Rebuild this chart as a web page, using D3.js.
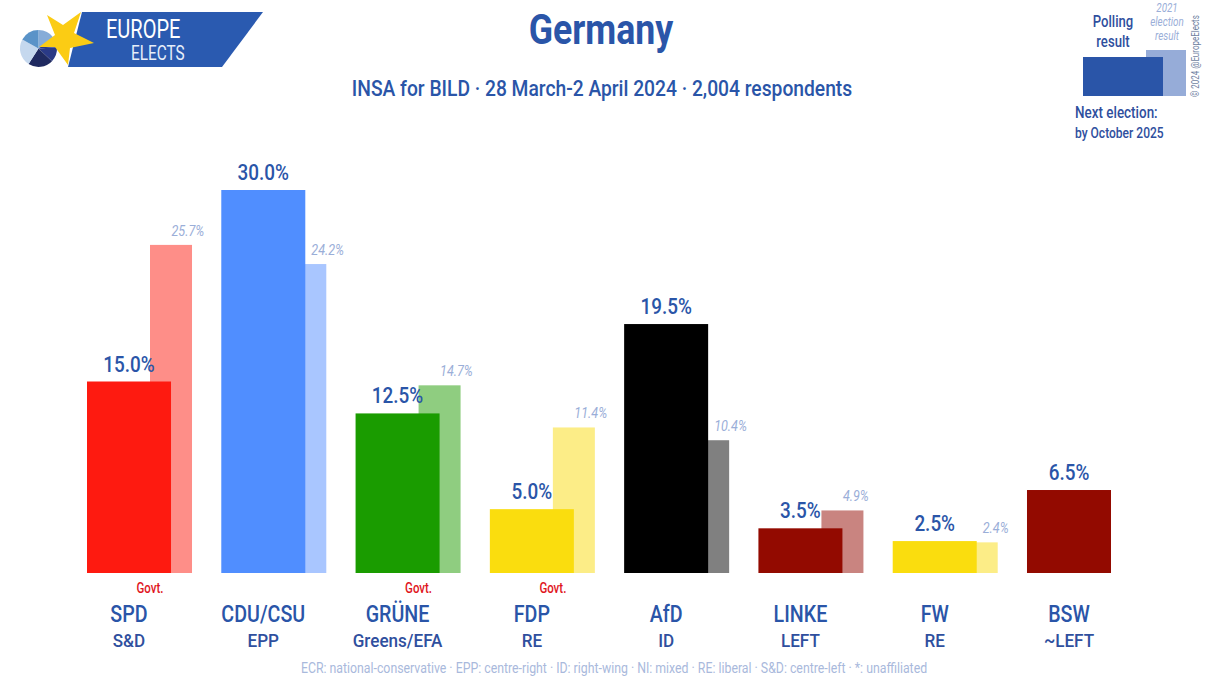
<!DOCTYPE html>
<html lang="en">
  <head>
    <meta charset="UTF-8" />
    <title>Germany poll</title>
    <script src="https://d3js.org/d3.v7.min.js"></script>
    <style>
      html, body { margin: 0; padding: 0; background: #fff; }
      svg { display: block; }
      text { font-family: Roboto, sans-serif; }
    </style>
  </head>
  <body>
    <svg width="1209" height="680" viewBox="0 0 1209 680"></svg>
    <script>
      // Data
      const parties = ["SPD", "CDU/CSU", "GRÜNE", "FDP", "AfD", "LINKE", "FW", "BSW"];
      const groups = ["S&D", "EPP", "Greens/EFA", "RE", "ID", "LEFT", "RE", "~LEFT"];
      const poll = [15.0, 30.0, 12.5, 5.0, 19.5, 3.5, 2.5, 6.5];
      const election = [25.7, 24.2, 14.7, 11.4, 10.4, 4.9, 2.4, null];
      const govt = ["SPD", "GRÜNE", "FDP"];
      const pollColors = ["#fe1a10", "#508eff", "#1a9c00", "#fadd0e", "#000000", "#930a00", "#fadd0e", "#930a00"];
      const electionColors = ["#fe8e88", "#a9c6ff", "#8fcd80", "#fced87", "#808080", "#c98480", "#fced87", "#c98480"];
      const logoSlices = [15, 9, 13, 22, 24, 17];
      const logoColors = ["#86acd8", "#2a3a86", "#2a3a86", "#1f2a60", "#c5d8ee", "#5a93c8"];

      const blue = "#2a55a8";
      const ink = "#2f4f9e";
      const pale = "#9aaed8";
      const svg = d3.select("svg");

      const x = d3.scaleBand().domain(parties).range([87, 1132]).paddingInner(0.218);
      const y = d3.scaleLinear().domain([0, 30]).range([573, 190]);
      const pollW = x.bandwidth() * 0.8;
      const elecW = x.bandwidth() * 0.4;

      // no narrow font installed, so squeeze Roboto sideways
      const squeeze = (tx, ty, sx) => `translate(${tx},${ty}) scale(${sx},1)`;

      // Election bars sit behind the polling bars
      svg.append("g").selectAll("rect")
        .data(parties.filter((d, i) => election[i] !== null))
        .join("rect")
        .attr("x", (d) => x(d) + x.bandwidth() - elecW)
        .attr("y", (d) => y(election[parties.indexOf(d)]))
        .attr("width", elecW)
        .attr("height", (d) => y(0) - y(election[parties.indexOf(d)]))
        .attr("fill", (d) => electionColors[parties.indexOf(d)]);

      svg.append("g").selectAll("rect")
        .data(parties)
        .join("rect")
        .attr("x", (d) => x(d))
        .attr("y", (d, i) => y(poll[i]))
        .attr("width", pollW)
        .attr("height", (d, i) => y(0) - y(poll[i]))
        .attr("fill", (d, i) => pollColors[i]);

      // Value labels
      svg.append("g").selectAll("text")
        .data(parties)
        .join("text")
        .attr("transform", (d, i) => squeeze(x(d) + pollW / 2, y(poll[i]) - 10, 0.86))
        .attr("text-anchor", "middle")
        .attr("font-size", 22)
        .attr("font-weight", 500)
        .attr("fill", blue)
        .text((d, i) => poll[i].toFixed(1) + "%");

      svg.append("g").selectAll("text")
        .data(parties.filter((d, i) => election[i] !== null))
        .join("text")
        .attr("transform", (d) => {
          const i = parties.indexOf(d);
          return squeeze(x(d) + pollW + (poll[i] > election[i] ? 6 : 0.5), y(election[i]) - 9, 0.9);
        })
        .attr("font-size", 14)
        .attr("font-style", "italic")
        .attr("fill", pale)
        .text((d) => election[parties.indexOf(d)].toFixed(1) + "%");

      // Party names and groups under the bars
      svg.append("g").selectAll("text")
        .data(parties)
        .join("text")
        .attr("transform", (d) => squeeze(x(d) + pollW / 2, 622, 0.82))
        .attr("text-anchor", "middle")
        .attr("font-size", 24)
        .attr("font-weight", 500)
        .attr("fill", blue)
        .text((d) => d);

      svg.append("g").selectAll("text")
        .data(groups)
        .join("text")
        .attr("transform", (d, i) => squeeze(x(parties[i]) + pollW / 2, 647, 0.9))
        .attr("text-anchor", "middle")
        .attr("font-size", 19)
        .attr("font-weight", 500)
        .attr("fill", ink)
        .text((d) => d);

      svg.append("g").selectAll("text")
        .data(govt)
        .join("text")
        .attr("transform", (d) => squeeze(x(d) + pollW / 2 + 21, 593, 0.82))
        .attr("text-anchor", "middle")
        .attr("font-size", 14)
        .attr("font-weight", 500)
        .attr("fill", "#e0141c")
        .text("Govt.");

      // Free-standing labels
      const label = (tx, ty, size, fill, str, sx, opts = {}) =>
        svg.append("text")
          .attr("transform", squeeze(tx, ty, sx))
          .attr("font-size", size)
          .attr("fill", fill)
          .attr("font-weight", opts.weight || 400)
          .attr("font-style", opts.style || "normal")
          .attr("text-anchor", opts.anchor || "middle")
          .text(str);

      label(601, 44, 42, blue, "Germany", 0.85, { weight: 700 });
      label(602, 96, 22, blue, "INSA for BILD · 28 March-2 April 2024 · 2,004 respondents", 0.875, { weight: 500 });
      label(614, 673, 14, "#a9b9dc", "ECR: national-conservative · EPP: centre-right · ID: right-wing · NI: mixed · RE: liberal · S&D: centre-left · *: unaffiliated", 0.88);

      // Legend, top right
      svg.append("rect").attr("x", 1146).attr("y", 50).attr("width", 40).attr("height", 46).attr("fill", "#96acd8");
      svg.append("rect").attr("x", 1083).attr("y", 57).attr("width", 80).attr("height", 39).attr("fill", blue);
      label(1113, 27, 16, ink, "Polling", 0.82, { weight: 500 });
      label(1113, 47, 16, ink, "result", 0.82, { weight: 500 });
      label(1167, 12, 12, pale, "2021", 0.82, { style: "italic" });
      label(1167, 26, 12, pale, "election", 0.82, { style: "italic" });
      label(1167, 40, 12, pale, "result", 0.82, { style: "italic" });
      label(1075, 118, 16, ink, "Next election:", 0.84, { weight: 500, anchor: "start" });
      label(1075, 138, 14, ink, "by October 2025", 0.86, { weight: 500, anchor: "start" });
      svg.append("text")
        .attr("transform", "translate(1199,97) rotate(-90) scale(0.8,1)")
        .attr("font-size", 10)
        .attr("fill", "#6f7f9f")
        .text("© 2024 @EuropeElects");

      // Logo
      const logo = svg.append("g");
      logo.append("path").attr("d", "M82 12H263L222 67H68Z").attr("fill", "#2a5ab0");
      const pie = d3.pie().sort(null).startAngle(0);
      const arc = d3.arc().innerRadius(0).outerRadius(18.5);
      logo.append("g").attr("transform", "translate(38.5,48.5)")
        .selectAll("path")
        .data(pie(logoSlices))
        .join("path")
        .attr("d", arc)
        .attr("fill", (d, i) => logoColors[i]);
      logo.append("path")
        .attr("d", "M81 12L74 33L94 43L70 48L68 65L55 47L39 47L55 35L47 15L63 25Z")
        .attr("fill", "#fbcc14");
      label(106, 38, 26, "#fff", "EUROPE", 0.77, { anchor: "start" });
      label(131, 60, 21, "#e6eefa", "ELECTS", 0.73, { anchor: "start" });
    </script>
  </body>
</html>
